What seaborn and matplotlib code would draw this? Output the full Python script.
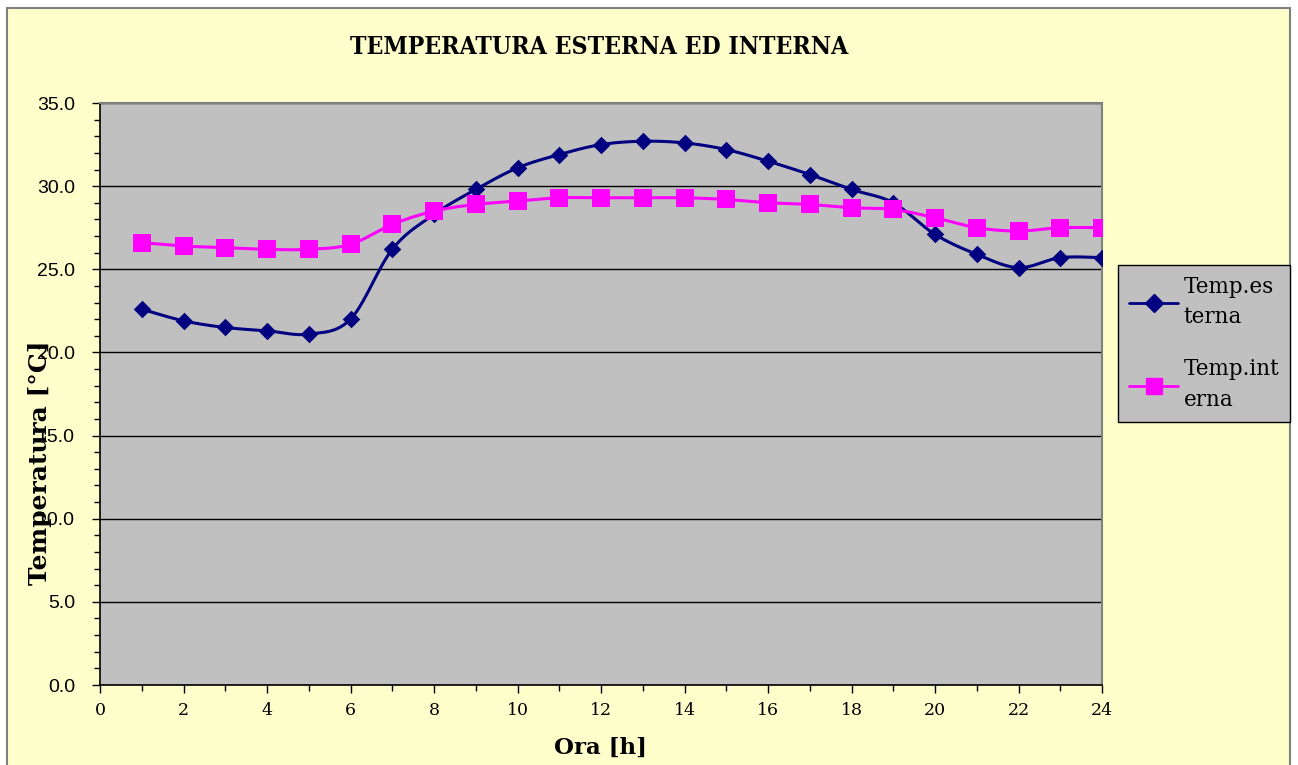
import numpy as np
import pandas as pd
import matplotlib
matplotlib.use("Agg")
import matplotlib.pyplot as plt
from matplotlib.patches import Rectangle
from matplotlib.lines import Line2D
import seaborn as sns

# ---- data ----
hours = list(range(1, 25))
temp_esterna = [22.6, 21.9, 21.5, 21.3, 21.1, 22.0, 26.2, 28.3, 29.8, 31.1, 31.9, 32.5,
                32.7, 32.6, 32.2, 31.5, 30.7, 29.8, 29.0, 27.1, 25.9, 25.1, 25.7, 25.7]
temp_interna = [26.6, 26.4, 26.3, 26.2, 26.2, 26.5, 27.7, 28.5, 28.9, 29.1, 29.3, 29.3,
                29.3, 29.3, 29.2, 29.0, 28.9, 28.7, 28.6, 28.1, 27.5, 27.3, 27.5, 27.5]
series_names = ["Temp.es\nterna", "Temp.int\nerna"]
title = "TEMPERATURA ESTERNA ED INTERNA"
xlabel = "Ora [h]"
ylabel = "Temperatura [°C]"


def smooth(x, y, n=20):
    """Catmull-Rom style smoothing (like Excel smoothed lines)."""
    x = np.asarray(x, float); y = np.asarray(y, float)
    px = np.concatenate([[x[0]], x, [x[-1]]])
    py = np.concatenate([[y[0]], y, [y[-1]]])
    xs, ys = [], []
    t = np.linspace(0, 1, n, endpoint=False)
    for i in range(1, len(px) - 2):
        p0, p1, p2, p3 = [np.array([px[j], py[j]]) for j in (i - 1, i, i + 1, i + 2)]
        c1 = p1 + (p2 - p0) / 6.0
        c2 = p2 - (p3 - p1) / 6.0
        for tt in t:
            b = ((1 - tt) ** 3) * p1 + 3 * ((1 - tt) ** 2) * tt * c1 + 3 * (1 - tt) * tt ** 2 * c2 + tt ** 3 * p2
            xs.append(b[0]); ys.append(b[1])
    xs.append(x[-1]); ys.append(y[-1])
    return np.array(xs), np.array(ys)


sns.set_style("white")
plt.rcParams["font.family"] = ["DejaVu Sans"]
plt.rcParams["text.color"] = "black"
plt.rcParams["xtick.color"] = "black"
plt.rcParams["ytick.color"] = "black"
plt.rcParams["axes.labelcolor"] = "black"

fig = plt.figure(figsize=(12.98, 7.65), dpi=100)
fig.patch.set_facecolor("white")
# chart area background and border
bg = Rectangle((7 / 1298, -0.01), (1290 - 7) / 1298, 1 - 8 / 765 + 0.01,
               transform=fig.transFigure, facecolor="#FFFFCC",
               edgecolor="#808080", linewidth=1.5, zorder=-10)
fig.patches.append(bg)

ax = fig.add_axes([100 / 1298, 1 - 685 / 765, (1102 - 100) / 1298, (685 - 103) / 765])
ax.set_zorder(1)
ax.set_facecolor("#C0C0C0")

navy = "#000080"
magenta = "#FF00FF"

sx, sy = smooth(hours, temp_esterna)
sns.lineplot(x=sx, y=sy, ax=ax, color=navy, linewidth=2.2, sort=False, zorder=3)
sx2, sy2 = smooth(hours, temp_interna)
sns.lineplot(x=sx2, y=sy2, ax=ax, color=magenta, linewidth=2.2, sort=False, zorder=3)

sns.scatterplot(x=hours, y=temp_esterna, ax=ax, marker="D", s=80, color=navy,
                edgecolor=navy, linewidth=0, zorder=4)
sns.scatterplot(x=hours, y=temp_interna, ax=ax, marker="s", s=150, color=magenta,
                edgecolor=magenta, linewidth=0, zorder=4)

ax.set_xlim(0, 24)
ax.set_ylim(0, 35)
ax.set_xticks(range(0, 25, 2))
ax.set_xticks(range(0, 25, 1), minor=True)
ax.set_yticks(np.arange(0, 35.1, 5))
ax.set_yticks(np.arange(0, 35.1, 1), minor=True)
ax.set_yticklabels([f"{v:.1f}" for v in np.arange(0, 35.1, 5)], fontsize=14,
                   family="Liberation Sans")
ax.set_xticklabels([str(v) for v in range(0, 25, 2)], fontsize=12.5, family="DejaVu Serif")
ax.tick_params(axis="both", which="both", direction="out", color="black", width=1)
ax.tick_params(axis="both", which="major", length=6, pad=6)
ax.tick_params(axis="both", which="minor", length=4)
ax.tick_params(axis="y", which="major", pad=12)
ax.tick_params(axis="x", which="both", bottom=True)
ax.tick_params(axis="y", which="both", left=True)

ax.yaxis.grid(True, color="black", linewidth=1)
ax.xaxis.grid(False)
ax.set_axisbelow(True)
for s in ["top", "right"]:
    ax.spines[s].set_color("#808080")
    ax.spines[s].set_linewidth(1.5)
for s in ["left", "bottom"]:
    ax.spines[s].set_color("black")
    ax.spines[s].set_linewidth(1.2)

ax.set_xlabel(xlabel, fontsize=16.5, fontweight="bold", family="DejaVu Serif", labelpad=13)
ax.set_ylabel("")
fig.text(40 / 1298, 1 - 463 / 765, ylabel, rotation=90, ha="center", va="center",
         fontsize=18, fontweight="bold", family="DejaVu Serif", zorder=5)

fig.text(599 / 1298, 1 - 47 / 765, title, ha="center", va="center", fontsize=17.7,
         fontweight="heavy", family="DejaVu Serif", fontstretch="condensed")

handles = [
    Line2D([0], [0], color=navy, linewidth=2, marker="D", markersize=9,
           markerfacecolor=navy, markeredgecolor=navy),
    Line2D([0], [0], color=magenta, linewidth=2, marker="s", markersize=12,
           markerfacecolor=magenta, markeredgecolor=magenta),
]
leg = fig.legend(handles, series_names, loc="upper left",
                 bbox_to_anchor=(1118 / 1298, 1 - 265 / 765), frameon=True,
                 prop={"family": "DejaVu Serif", "size": 15.5}, handlelength=2.3,
                 handletextpad=0.25, labelspacing=1.4, borderpad=0.5, borderaxespad=0,
                 fancybox=False)
for t in leg.get_texts():
    t.set_linespacing(1.5)
leg.get_frame().set_facecolor("#C0C0C0")
leg.get_frame().set_edgecolor("black")
leg.get_frame().set_linewidth(1)
leg.get_frame().set_alpha(1)

fig.savefig("out.png", dpi=100, facecolor=fig.get_facecolor())
